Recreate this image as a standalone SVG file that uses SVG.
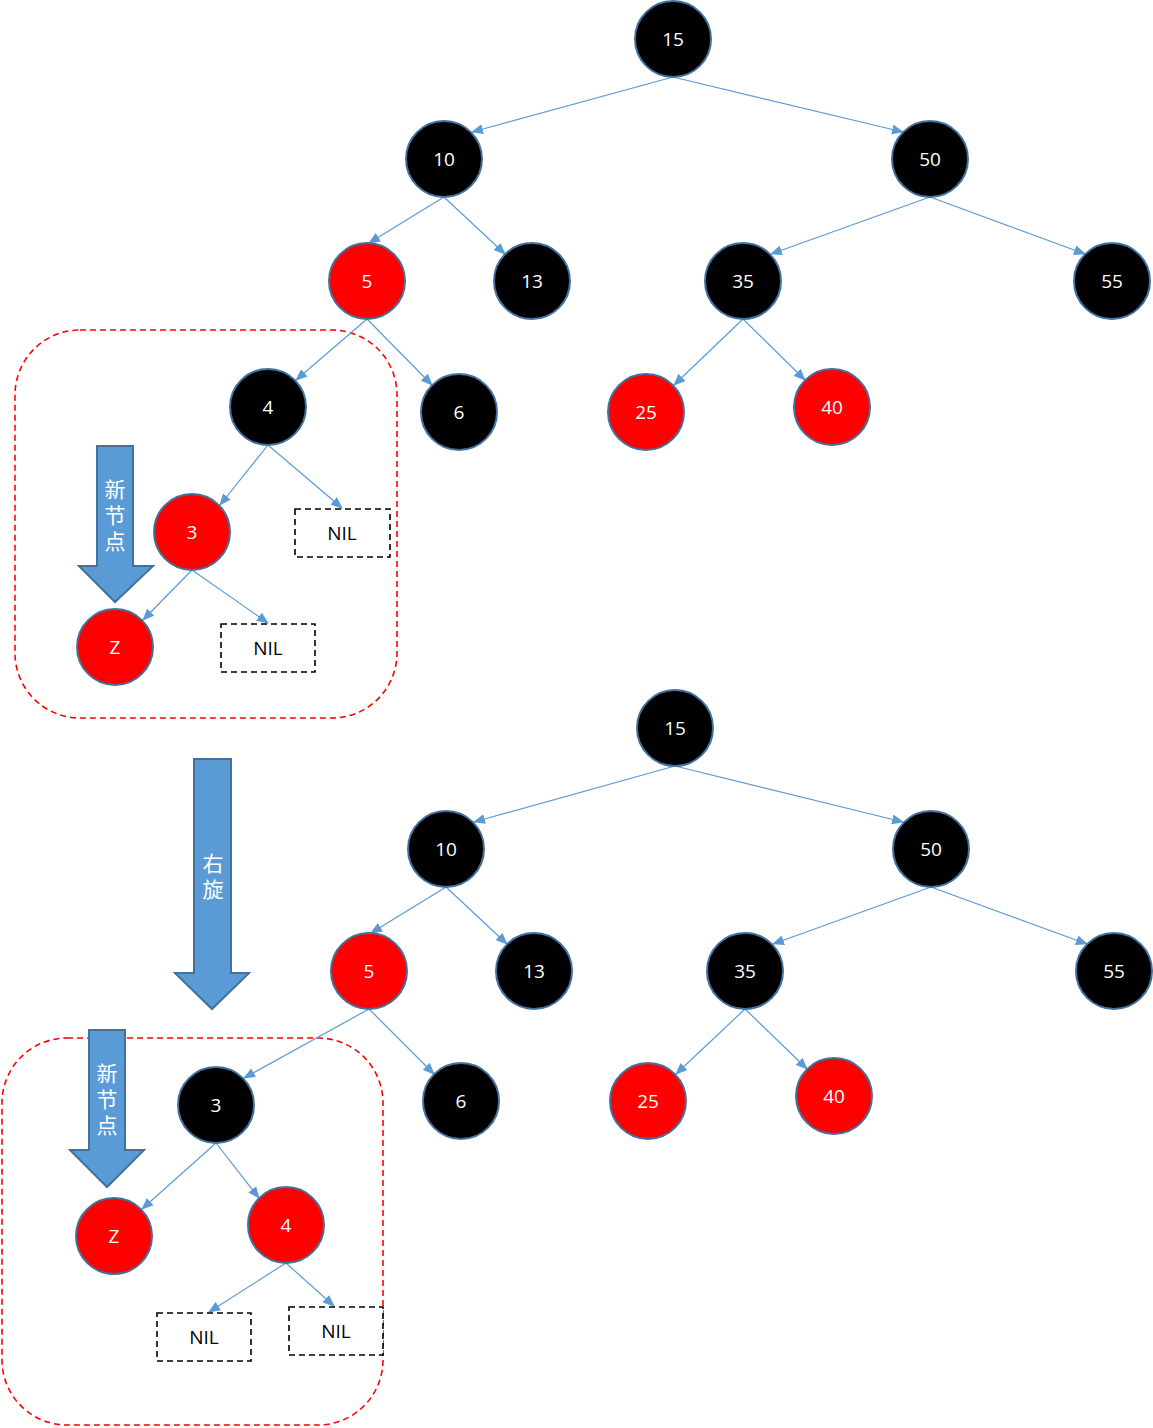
<svg xmlns="http://www.w3.org/2000/svg" width="1153" height="1428" viewBox="0 0 1153 1428">
<style>
.b{fill:#000000;stroke:#41719C;stroke-width:2}
.r{fill:#FF0000;stroke:#41719C;stroke-width:2}
.t{fill:#FFFFFF;font-family:"Open Sans","Liberation Sans",sans-serif;font-size:19px;text-anchor:middle;dominant-baseline:central}
.nil{fill:#FFFFFF;stroke:#000000;stroke-width:1.6;stroke-dasharray:6,4}
.nt{fill:#000000;font-family:"Open Sans","Liberation Sans",sans-serif;font-size:19px;text-anchor:middle;dominant-baseline:central}
.e{stroke:#5B9BD5;stroke-width:1.2;fill:none;marker-end:url(#ah)}
.grp{fill:none;stroke:#FF0000;stroke-width:1.6;stroke-dasharray:6,4}
.ba{fill:#5B9BD5;stroke:#41719C;stroke-width:2}
.ct{fill:#FFFFFF;font-family:"Noto Sans CJK SC",sans-serif;font-size:21px;text-anchor:middle;writing-mode:tb;letter-spacing:5px}
</style>
<defs>
<marker id="ah" markerUnits="userSpaceOnUse" markerWidth="12" markerHeight="10" refX="11" refY="5" orient="auto">
<path d="M0,0 L12,5 L0,10 Z" fill="#5B9BD5"/>
</marker>
</defs>
<rect width="1153" height="1428" fill="#FFFFFF"/>
<g id="groups">
<rect class="grp" x="15" y="330" width="382" height="388" rx="65" ry="65"/>
<rect class="grp" x="2" y="1038" width="381" height="387" rx="65" ry="65"/>
</g>
<g id="connectors">
<line class="e" x1="673" y1="77" x2="472" y2="132"/>
<line class="e" x1="673" y1="77" x2="903" y2="132"/>
<line class="e" x1="444" y1="197" x2="369" y2="243"/>
<line class="e" x1="444" y1="197" x2="505" y2="254"/>
<line class="e" x1="930" y1="197" x2="771" y2="254"/>
<line class="e" x1="930" y1="197" x2="1085" y2="254"/>
<line class="e" x1="743" y1="319" x2="674" y2="385"/>
<line class="e" x1="743" y1="319" x2="805" y2="380"/>
<line class="e" x1="367" y1="319" x2="296" y2="380"/>
<line class="e" x1="367" y1="319" x2="432" y2="385"/>
<line class="e" x1="268" y1="445" x2="220" y2="505"/>
<line class="e" x1="268" y1="445" x2="342" y2="508"/>
<line class="e" x1="192" y1="570" x2="143" y2="620"/>
<line class="e" x1="192" y1="570" x2="268" y2="623"/>
<line class="e" x1="675" y1="766" x2="474" y2="822"/>
<line class="e" x1="675" y1="766" x2="903" y2="822"/>
<line class="e" x1="446" y1="887" x2="371" y2="933"/>
<line class="e" x1="446" y1="887" x2="507" y2="944"/>
<line class="e" x1="931" y1="887" x2="773" y2="944"/>
<line class="e" x1="931" y1="887" x2="1087" y2="944"/>
<line class="e" x1="745" y1="1009" x2="676" y2="1074"/>
<line class="e" x1="745" y1="1009" x2="807" y2="1069"/>
<line class="e" x1="369" y1="1009" x2="244" y2="1078"/>
<line class="e" x1="369" y1="1009" x2="434" y2="1074"/>
<line class="e" x1="216" y1="1143" x2="142" y2="1209"/>
<line class="e" x1="216" y1="1143" x2="259" y2="1198"/>
<line class="e" x1="286" y1="1263" x2="209" y2="1312"/>
<line class="e" x1="286" y1="1263" x2="334" y2="1306"/>
</g>
<g id="arrows">
<g id="arrow-new-top"><path class="ba" d="M97,446 H133 V566 H153 L115,602 L79,566 H97 Z"/><text class="ct" x="115" y="518">新节点</text></g>
<g id="arrow-rotate"><path class="ba" d="M194,759 H231 V973 H249 L212,1009 L175,973 H194 Z"/><text class="ct" x="213" y="879">右旋</text></g>
<g id="arrow-new-bottom"><path class="ba" d="M89,1030 H125 V1150 H144 L107,1187 L70,1150 H89 Z"/><text class="ct" x="107" y="1102">新节点</text></g>
</g>
<g id="n15a"><circle class="b" cx="673" cy="39" r="38"/><text class="t" x="673" y="39">15</text></g>
<g id="n10a"><circle class="b" cx="444" cy="159" r="38"/><text class="t" x="444" y="159">10</text></g>
<g id="n50a"><circle class="b" cx="930" cy="159" r="38"/><text class="t" x="930" y="159">50</text></g>
<g id="n5a"><circle class="r" cx="367" cy="281" r="38"/><text class="t" x="367" y="281">5</text></g>
<g id="n13a"><circle class="b" cx="532" cy="281" r="38"/><text class="t" x="532" y="281">13</text></g>
<g id="n35a"><circle class="b" cx="743" cy="281" r="38"/><text class="t" x="743" y="281">35</text></g>
<g id="n55a"><circle class="b" cx="1112" cy="281" r="38"/><text class="t" x="1112" y="281">55</text></g>
<g id="n4a"><circle class="b" cx="268" cy="407" r="38"/><text class="t" x="268" y="407">4</text></g>
<g id="n6a"><circle class="b" cx="459" cy="412" r="38"/><text class="t" x="459" y="412">6</text></g>
<g id="n25a"><circle class="r" cx="646" cy="412" r="38"/><text class="t" x="646" y="412">25</text></g>
<g id="n40a"><circle class="r" cx="832" cy="407" r="38"/><text class="t" x="832" y="407">40</text></g>
<g id="n3a"><circle class="r" cx="192" cy="532" r="38"/><text class="t" x="192" y="532">3</text></g>
<g id="nZa"><circle class="r" cx="115" cy="647" r="38"/><text class="t" x="115" y="647">Z</text></g>
<g id="nil1a"><rect class="nil" x="295" y="509" width="95" height="48"/><text class="nt" x="342" y="533">NIL</text></g>
<g id="nil2a"><rect class="nil" x="221" y="624" width="94" height="48"/><text class="nt" x="268" y="648">NIL</text></g>
<g id="n15b"><circle class="b" cx="675" cy="728" r="38"/><text class="t" x="675" y="728">15</text></g>
<g id="n10b"><circle class="b" cx="446" cy="849" r="38"/><text class="t" x="446" y="849">10</text></g>
<g id="n50b"><circle class="b" cx="931" cy="849" r="38"/><text class="t" x="931" y="849">50</text></g>
<g id="n5b"><circle class="r" cx="369" cy="971" r="38"/><text class="t" x="369" y="971">5</text></g>
<g id="n13b"><circle class="b" cx="534" cy="971" r="38"/><text class="t" x="534" y="971">13</text></g>
<g id="n35b"><circle class="b" cx="745" cy="971" r="38"/><text class="t" x="745" y="971">35</text></g>
<g id="n55b"><circle class="b" cx="1114" cy="971" r="38"/><text class="t" x="1114" y="971">55</text></g>
<g id="n6b"><circle class="b" cx="461" cy="1101" r="38"/><text class="t" x="461" y="1101">6</text></g>
<g id="n25b"><circle class="r" cx="648" cy="1101" r="38"/><text class="t" x="648" y="1101">25</text></g>
<g id="n40b"><circle class="r" cx="834" cy="1096" r="38"/><text class="t" x="834" y="1096">40</text></g>
<g id="n3b"><circle class="b" cx="216" cy="1105" r="38"/><text class="t" x="216" y="1105">3</text></g>
<g id="nZb"><circle class="r" cx="114" cy="1236" r="38"/><text class="t" x="114" y="1236">Z</text></g>
<g id="n4b"><circle class="r" cx="286" cy="1225" r="38"/><text class="t" x="286" y="1225">4</text></g>
<g id="nil1b"><rect class="nil" x="157" y="1313" width="94" height="48"/><text class="nt" x="204" y="1337">NIL</text></g>
<g id="nil2b"><rect class="nil" x="289" y="1307" width="94" height="48"/><text class="nt" x="336" y="1331">NIL</text></g>
</svg>
